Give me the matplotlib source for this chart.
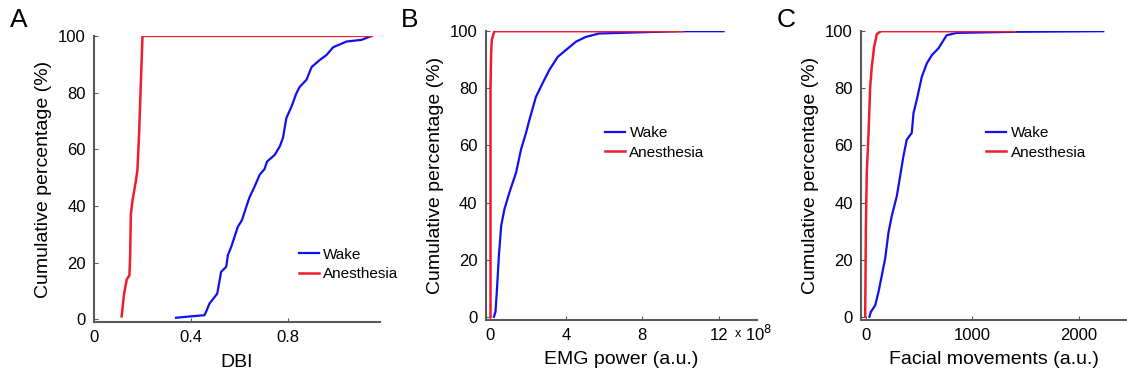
import matplotlib
matplotlib.use("Agg")
import matplotlib.pyplot as plt

plt.rcParams['font.family'] = ['Liberation Sans', 'DejaVu Sans']

# A: DBI
dbi_wake_x = [0.338, 0.40, 0.455, 0.462, 0.476, 0.508, 0.524, 0.545, 0.552, 0.566, 0.579,
              0.593, 0.61, 0.628, 0.641, 0.662, 0.683, 0.703, 0.713, 0.745, 0.766, 0.779,
              0.793, 0.814, 0.834, 0.848, 0.876, 0.897, 0.931, 0.959, 0.986, 1.041, 1.103, 1.145]
dbi_wake_y = [0.5, 1, 1.4, 2.6, 5.5, 9, 16.7, 18.5, 22.6, 25.6, 29, 32.6, 35, 39.7, 43, 46.8,
              51, 53, 55.6, 58, 61, 64, 71, 75, 79.7, 82, 84.5, 89, 91.5, 93.3, 96, 98, 98.6, 100]
dbi_anes_x = [0.114, 0.124, 0.135, 0.146, 0.149, 0.152, 0.159, 0.172, 0.179, 0.186, 0.193, 0.20, 1.145]
dbi_anes_y = [1, 9, 14, 15.5, 22, 37, 42, 48.5, 52.6, 65.6, 83, 100, 100]

# B: EMG power (x 1e8)
emg_wake_x = [0.23, 0.31, 0.38, 0.49, 0.61, 0.78, 1.04, 1.39, 1.65, 1.91, 2.09, 2.43, 2.78,
              3.13, 3.57, 4.0, 4.52, 5.04, 5.74, 7.3, 9.9, 12.26]
emg_wake_y = [0, 1.7, 8.7, 21.5, 31.9, 37.7, 43.5, 50.5, 58.6, 64.4, 69, 77, 81.8, 86.4,
              91, 93.4, 96.3, 98, 99.2, 99.5, 100, 100]
emg_anes_x = [0.05, 0.05, 0.08, 0.12, 0.25, 10.1]
emg_anes_y = [0, 80, 92, 97, 100, 100]

# C: facial movements
face_wake_x = [34, 47, 88, 119, 150, 181, 213, 244, 291, 322, 353, 384, 431, 447, 478, 525,
               572, 619, 681, 759, 853, 1416, 2228]
face_wake_y = [0, 1.7, 4, 8.7, 14.5, 20.3, 29.6, 35.4, 42.3, 49.3, 56.3, 62, 64.4, 71.3, 76,
               84, 88.7, 91.6, 94, 98.6, 99.4, 99.8, 100]
face_anes_x = [-6, 0, 9, 25, 41, 56, 78, 103, 141, 1400]
face_anes_y = [0, 29.6, 50.5, 64, 80.7, 87.6, 94.5, 99, 100, 100]

blue = '#1010f0'
red = '#ee1c2e'
axc = '#5a5a5a'

fig = plt.figure(figsize=(11.27, 3.76), dpi=100)

panels = [
    ([0.0834, 0.1436, 0.254, 0.761], dbi_wake_x, dbi_wake_y, dbi_anes_x, dbi_anes_y,
     (0, 1.18), [0, 0.4, 0.8], ['0', '0.4', '0.8'], 'DBI', 'A', (0.715, 0.26)),
    ([0.431, 0.150, 0.2405, 0.767], emg_wake_x, emg_wake_y, emg_anes_x, emg_anes_y,
     (-0.2, 14), [0, 4, 8, 12], ['0', '4', '8', '12'], 'EMG power (a.u.)', 'B', (0.44, 0.67)),
    ([0.764, 0.150, 0.236, 0.767], face_wake_x, face_wake_y, face_anes_x, face_anes_y,
     (-45, 2450), [0, 1000, 2000], ['0', '1000', '2000'], 'Facial movements (a.u.)', 'C',
     (0.47, 0.67)),
]

for pos, wx, wy, ax_, ay_, xl, xt, xtl, xlab, letter, legpos in panels:
    ax = fig.add_axes(pos)
    ax.plot(wx, wy, color=blue, lw=1.6, label='Wake')
    ax.plot(ax_, ay_, color=red, lw=1.8, label='Anesthesia')
    ax.set_xlim(*xl)
    ax.set_ylim(-1, 100)
    ax.set_xticks(xt)
    ax.set_xticklabels(xtl)
    ax.set_yticks([0, 20, 40, 60, 80, 100])
    for s in ['top', 'right']:
        ax.spines[s].set_visible(False)
    for s in ['left', 'bottom']:
        ax.spines[s].set_color(axc)
        ax.spines[s].set_linewidth(1.5)
    ax.tick_params(direction='in', length=3, width=0.8, color=axc, labelsize=12,
                   labelcolor='black', pad=6)
    ax.set_xlabel(xlab, fontsize=14, labelpad=6)
    ax.set_ylabel('Cumulative percentage (%)', fontsize=14, labelpad=4)
    leg = ax.legend(loc='upper left', bbox_to_anchor=legpos, frameon=False, fontsize=11,
                    handlelength=1.3, handletextpad=0.3, labelspacing=0.35,
                    borderaxespad=0, borderpad=0)
    fig.text(pos[0] - 0.075, 0.915, letter, fontsize=19, va='bottom')

# x10^8 multiplier on panel B
fig.text(0.652, 0.112, 'x', fontsize=9, va='center')
fig.text(0.661, 0.112, r'10$^{8}$', fontsize=12, va='center')

plt.savefig('out.png', dpi=100)
